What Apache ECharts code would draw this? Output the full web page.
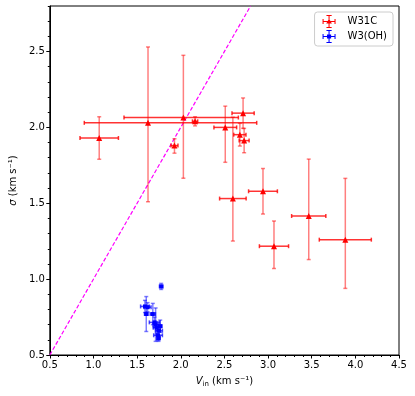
<!DOCTYPE html>
<html>
<head>
<meta charset="utf-8">
<script src="https://cdn.jsdelivr.net/npm/echarts@6.0.0/dist/echarts.min.js"></script>
<style>
  html, body { margin: 0; padding: 0; background: #fff; }
  #main { width: 415px; height: 396px; }
</style>
</head>
<body>
<div id="main"></div>
<script>
// W31C (red): V_in, sigma and their error bars (low / high)
const redV     = [1.066, 1.625, 2.03, 2.164, 1.928, 2.714, 2.51, 2.677, 2.726, 2.597, 2.942, 3.068, 3.466, 3.885];
const redSig   = [1.93, 2.03, 2.065, 2.04, 1.88, 2.094, 2.0, 1.952, 1.913, 1.531, 1.579, 1.217, 1.416, 1.26];
const redVLo   = [0.22, 0.73, 0.68, 0.03, 0.04, 0.127, 0.13, 0.07, 0.057, 0.152, 0.165, 0.167, 0.196, 0.298];
const redVHi   = [0.22, 1.245, 0.63, 0.03, 0.04, 0.127, 0.13, 0.07, 0.057, 0.152, 0.165, 0.167, 0.196, 0.298];
const redSigLo = [0.14, 0.52, 0.40, 0.03, 0.05, 0.10, 0.23, 0.075, 0.08, 0.28, 0.15, 0.147, 0.287, 0.321];
const redSigHi = [0.14, 0.50, 0.41, 0.03, 0.045, 0.10, 0.14, 0.075, 0.08, 0.536, 0.15, 0.166, 0.375, 0.404];

// W3(OH) (blue)
const blueV     = [1.776, 1.59, 1.62, 1.605, 1.68, 1.70, 1.712, 1.725, 1.75, 1.74, 1.765, 1.745];
const blueSig   = [0.952, 0.82, 0.815, 0.77, 0.77, 0.715, 0.70, 0.68, 0.66, 0.63, 0.69, 0.61];
const blueVErr  = [0.02, 0.05, 0.04, 0.02, 0.03, 0.06, 0.03, 0.04, 0.04, 0.05, 0.02, 0.02];
const blueSigErr = [0.02, 0.04, 0.03, 0.115, 0.07, 0.035, 0.11, 0.04, 0.04, 0.03, 0.04, 0.02];

// sigma = V_in line
const equalLine = [0.5, 2.8];

const xTicks = [0.5, 1.0, 1.5, 2.0, 2.5, 3.0, 3.5, 4.0, 4.5];
const yTicks = [0.5, 1.0, 1.5, 2.0, 2.5];
const yMinor = [];
for (let i = 6; i <= 28; i++) yMinor.push(i / 10);

const font = 'DejaVu Sans';

let chartDom = document.getElementById('main');
let myChart = echarts.init(chartDom, null, {renderer: 'canvas'});

// error bar drawing: value = [v, s, vLo, vHi, sLo, sHi]
function errorBars(hColor, vColor) {
  return function (params, api) {
    const x = api.value(0), y = api.value(1);
    const l = api.coord([x - api.value(2), y]);
    const r = api.coord([x + api.value(3), y]);
    const b = api.coord([x, y - api.value(4)]);
    const t = api.coord([x, y + api.value(5)]);
    const c = 2;
    const hs = {stroke: hColor, lineWidth: 1.5};
    const vs = {stroke: vColor, lineWidth: 1.5};
    return {
      type: 'group',
      children: [
        {type: 'line', shape: {x1: l[0], y1: l[1], x2: r[0], y2: r[1]}, style: hs},
        {type: 'line', shape: {x1: l[0], y1: l[1] - c, x2: l[0], y2: l[1] + c}, style: hs},
        {type: 'line', shape: {x1: r[0], y1: r[1] - c, x2: r[0], y2: r[1] + c}, style: hs},
        {type: 'line', shape: {x1: b[0], y1: b[1], x2: t[0], y2: t[1]}, style: vs},
        {type: 'line', shape: {x1: b[0] - c, y1: b[1], x2: b[0] + c, y2: b[1]}, style: vs},
        {type: 'line', shape: {x1: t[0] - c, y1: t[1], x2: t[0] + c, y2: t[1]}, style: vs}
      ]
    };
  };
}

const redErr = redV.map((v, i) => [v, redSig[i], redVLo[i], redVHi[i], redSigLo[i], redSigHi[i]]);
const blueErr = blueV.map((v, i) => [v, blueSig[i], blueVErr[i], blueVErr[i], blueSigErr[i], blueSigErr[i]]);

const bars = 'M0,46 L100,46 L100,54 L0,54 Z M46,0 L54,0 L54,100 L46,100 Z ' +
  'M0,30 L8,30 L8,70 L0,70 Z M92,30 L100,30 L100,70 L92,70 Z ' +
  'M30,0 L70,0 L70,8 L30,8 Z M30,92 L70,92 L70,100 L30,100 Z ';
const redIcon = 'path://' + bars + 'M50,28 L72,66 L28,66 Z';
const blueIcon = 'path://' + bars + 'M34,34 L66,34 L66,66 L34,66 Z';

let option = {
  animation: false,
  backgroundColor: '#fff',
  textStyle: {fontFamily: font},
  grid: {
    left: 48, right: 16, top: 6, bottom: 41,
    show: true, borderColor: '#000', borderWidth: 1, backgroundColor: 'transparent'
  },
  legend: {
    orient: 'vertical',
    right: 22, top: 12,
    padding: [3, 6, 3, 8],
    itemGap: 2,
    itemWidth: 13, itemHeight: 13,
    backgroundColor: 'rgba(255,255,255,0.8)',
    borderColor: '#cccccc', borderWidth: 1, borderRadius: 3,
    textStyle: {fontSize: 10, color: '#000', fontFamily: font, padding: [0, 0, 0, 7]},
    data: [
      {name: 'W31C', icon: redIcon},
      {name: 'W3(OH)', icon: blueIcon}
    ]
  },
  xAxis: {
    type: 'value', min: 0.5, max: 4.5, interval: 0.5,
    axisLine: {show: true, onZero: false, lineStyle: {color: '#000', width: 1}},
    axisTick: {show: true, length: 3.5, lineStyle: {color: '#000'}},
    minorTick: {show: true, splitNumber: 5, length: 2, lineStyle: {color: '#000'}},
    axisLabel: {fontSize: 10, color: '#000', margin: 5, formatter: v => v.toFixed(1)},
    splitLine: {show: false},
    name: '{i|V}{sub|in} (km s⁻¹)',
    nameLocation: 'middle', nameGap: 20,
    nameTextStyle: {
      fontSize: 10, color: '#000', fontFamily: font,
      rich: {
        i: {fontSize: 10, fontStyle: 'italic', fontFamily: font, color: '#000'},
        sub: {fontSize: 7, fontFamily: font, color: '#000', padding: [6, 0, 0, 0]}
      }
    }
  },
  yAxis: [{
    type: 'value', min: 0.5, max: 2.8,
    axisLine: {show: true, onZero: false, lineStyle: {color: '#000', width: 1}},
    axisTick: {show: true, length: 3.5, customValues: yTicks, lineStyle: {color: '#000'}},
    axisLabel: {customValues: yTicks, fontSize: 10, color: '#000', margin: 5, formatter: v => v.toFixed(1)},
    splitLine: {show: false},
    name: '{i|σ} (km s⁻¹)',
    nameLocation: 'middle', nameGap: 30, nameRotate: 90,
    nameTextStyle: {
      fontSize: 10, color: '#000', fontFamily: font,
      rich: {i: {fontSize: 10, fontStyle: 'italic', fontFamily: font, color: '#000'}}
    }
  }, {
    type: 'value', min: 0.5, max: 2.8, position: 'left',
    axisLine: {show: false},
    axisTick: {show: true, length: 2, customValues: yMinor, lineStyle: {color: '#000'}},
    axisLabel: {show: false},
    splitLine: {show: false}
  }],
  series: [
    {
      name: 'line', type: 'line',
      data: [[equalLine[0], equalLine[0]], [equalLine[1], equalLine[1]]],
      symbol: 'none', silent: true,
      lineStyle: {color: '#ff00ff', width: 1.2, type: [4, 2]},
      z: 3
    },
    {
      name: 'W31C err', type: 'custom',
      renderItem: errorBars('rgba(255,0,0,0.8)', 'rgba(255,0,0,0.5)'),
      data: redErr, z: 4
    },
    {
      name: 'W3(OH) err', type: 'custom',
      renderItem: errorBars('rgba(0,0,255,0.7)', 'rgba(0,0,255,0.5)'),
      data: blueErr, z: 4
    },
    {
      name: 'W31C', type: 'scatter',
      data: redV.map((v, i) => [v, redSig[i]]),
      symbol: 'triangle', symbolSize: 6,
      itemStyle: {color: '#ff0000', opacity: 1},
      z: 5
    },
    {
      name: 'W3(OH)', type: 'scatter',
      data: blueV.map((v, i) => [v, blueSig[i]]),
      symbol: 'rect', symbolSize: 4,
      itemStyle: {color: '#0000ff', opacity: 1},
      z: 5
    }
  ]
};

myChart.setOption(option);
</script>
</body>
</html>
